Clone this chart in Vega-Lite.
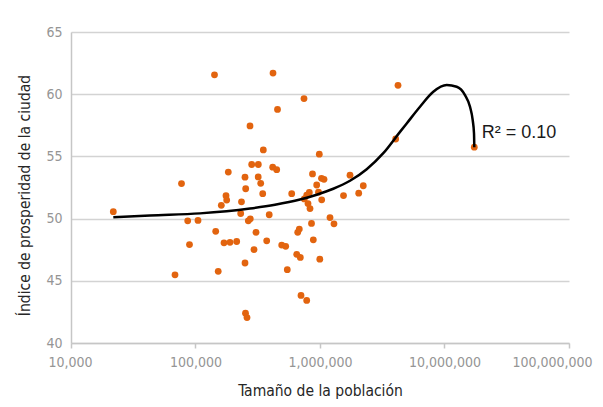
{
  "$schema": "https://vega.github.io/schema/vega-lite/v6.json",
  "autosize": "none",
  "width": 498,
  "height": 311,
  "padding": {"left": 71, "top": 32, "right": 34, "bottom": 64},
  "background": "white",
  "config": {
    "view": {"stroke": null},
    "axis": {
      "labelFont": "DejaVu Sans Condensed, sans-serif",
      "titleFont": "DejaVu Sans Condensed, sans-serif",
      "labelColor": "#959595",
      "labelFontSize": 14,
      "titleColor": "#262626",
      "titleFontSize": 15.5,
      "titleFontWeight": "normal",
      "domainColor": "#c6c6c6",
      "domainWidth": 1.5,
      "tickColor": "#c6c6c6",
      "tickWidth": 1.5,
      "gridColor": "#d3d3d3",
      "gridWidth": 1.5
    }
  },
  "datasets": {
    "points": [
      {"poblacion": 21870, "indice": 50.56},
      {"poblacion": 68440, "indice": 45.48},
      {"poblacion": 77190, "indice": 52.82},
      {"poblacion": 86580, "indice": 49.82},
      {"poblacion": 89480, "indice": 47.91},
      {"poblacion": 104730, "indice": 49.85},
      {"poblacion": 142100, "indice": 61.56},
      {"poblacion": 145300, "indice": 48.98},
      {"poblacion": 152200, "indice": 45.76},
      {"poblacion": 161200, "indice": 51.07},
      {"poblacion": 169400, "indice": 48.05},
      {"poblacion": 175800, "indice": 51.84},
      {"poblacion": 178100, "indice": 51.49},
      {"poblacion": 183400, "indice": 53.74},
      {"poblacion": 189300, "indice": 48.09},
      {"poblacion": 214200, "indice": 48.16},
      {"poblacion": 230700, "indice": 50.41},
      {"poblacion": 234100, "indice": 51.35},
      {"poblacion": 249800, "indice": 53.33},
      {"poblacion": 249800, "indice": 46.43},
      {"poblacion": 253000, "indice": 52.4},
      {"poblacion": 252100, "indice": 42.4},
      {"poblacion": 259200, "indice": 42.04},
      {"poblacion": 265500, "indice": 49.82},
      {"poblacion": 275500, "indice": 49.98},
      {"poblacion": 274000, "indice": 57.45},
      {"poblacion": 282700, "indice": 54.35},
      {"poblacion": 295100, "indice": 47.51},
      {"poblacion": 306200, "indice": 48.9},
      {"poblacion": 319500, "indice": 54.35},
      {"poblacion": 318900, "indice": 53.35},
      {"poblacion": 334000, "indice": 52.84},
      {"poblacion": 346700, "indice": 52.0},
      {"poblacion": 350500, "indice": 55.52},
      {"poblacion": 373200, "indice": 48.21},
      {"poblacion": 390900, "indice": 50.31},
      {"poblacion": 417000, "indice": 54.13},
      {"poblacion": 419300, "indice": 61.7},
      {"poblacion": 449000, "indice": 53.93},
      {"poblacion": 455700, "indice": 58.78},
      {"poblacion": 492500, "indice": 47.87},
      {"poblacion": 530200, "indice": 47.77},
      {"poblacion": 546100, "indice": 45.89},
      {"poblacion": 592600, "indice": 52.0},
      {"poblacion": 650100, "indice": 47.13},
      {"poblacion": 662200, "indice": 48.9},
      {"poblacion": 682000, "indice": 49.16},
      {"poblacion": 694800, "indice": 46.88},
      {"poblacion": 703900, "indice": 43.82},
      {"poblacion": 782100, "indice": 43.42},
      {"poblacion": 743900, "indice": 59.65},
      {"poblacion": 748000, "indice": 51.58},
      {"poblacion": 782100, "indice": 51.88},
      {"poblacion": 801000, "indice": 51.21},
      {"poblacion": 820600, "indice": 52.1},
      {"poblacion": 831300, "indice": 50.81},
      {"poblacion": 854600, "indice": 49.61},
      {"poblacion": 870700, "indice": 53.59},
      {"poblacion": 883600, "indice": 48.29},
      {"poblacion": 940800, "indice": 52.7},
      {"poblacion": 972600, "indice": 52.12},
      {"poblacion": 987200, "indice": 55.18},
      {"poblacion": 996400, "indice": 46.74},
      {"poblacion": 1028000, "indice": 53.24},
      {"poblacion": 1077000, "indice": 53.16},
      {"poblacion": 1032000, "indice": 51.51},
      {"poblacion": 1203000, "indice": 50.08},
      {"poblacion": 1295000, "indice": 49.58},
      {"poblacion": 1545000, "indice": 51.85},
      {"poblacion": 1742000, "indice": 53.49},
      {"poblacion": 2046000, "indice": 52.04},
      {"poblacion": 2227000, "indice": 52.64},
      {"poblacion": 4055000, "indice": 56.4},
      {"poblacion": 4232000, "indice": 60.71},
      {"poblacion": 17350000, "indice": 55.74}
    ],
    "trend": [
      {"poblacion": 21870, "indice": 50.1},
      {"poblacion": 43100, "indice": 50.25},
      {"poblacion": 108700, "indice": 50.42},
      {"poblacion": 274000, "indice": 50.81},
      {"poblacion": 435000, "indice": 51.11},
      {"poblacion": 690800, "indice": 51.53},
      {"poblacion": 940800, "indice": 51.92},
      {"poblacion": 1279000, "indice": 52.4},
      {"poblacion": 1742000, "indice": 53.04},
      {"poblacion": 2372000, "indice": 53.97},
      {"poblacion": 3224000, "indice": 55.26},
      {"poblacion": 4390000, "indice": 56.97},
      {"poblacion": 4971000, "indice": 57.65},
      {"poblacion": 6357000, "indice": 58.99},
      {"poblacion": 8128000, "indice": 60.19},
      {"poblacion": 10420000, "indice": 60.73},
      {"poblacion": 12530000, "indice": 60.6},
      {"poblacion": 14610000, "indice": 59.93},
      {"poblacion": 16030000, "indice": 58.99},
      {"poblacion": 16850000, "indice": 57.91},
      {"poblacion": 17260000, "indice": 56.84},
      {"poblacion": 17350000, "indice": 55.74}
    ],
    "etiqueta": [
      {"poblacion": 19900000, "indice": 56.5, "texto": "R² = 0.10"}
    ]
  },
  "encoding": {
    "x": {
      "field": "poblacion",
      "type": "quantitative",
      "scale": {"type": "log", "domain": [10000, 100000000], "nice": false},
      "axis": {
        "title": "Tamaño de la población",
        "values": [10000, 100000, 1000000, 10000000, 100000000],
        "format": ",d",
        "grid": false,
        "tickSize": 5,
        "labelPadding": 7,
        "labelFlush": true,
        "labelFlushOffset": 23,
        "titlePadding": 14
      }
    },
    "y": {
      "field": "indice",
      "type": "quantitative",
      "scale": {"domain": [40, 65], "nice": false, "zero": false},
      "axis": {
        "title": "Índice de prosperidad de la ciudad",
        "values": [40, 45, 50, 55, 60, 65],
        "ticks": false,
        "labelPadding": 9,
        "titlePadding": 13,
        "titleY": 163
      }
    }
  },
  "layer": [
    {
      "data": {"name": "points"},
      "mark": {"type": "circle", "size": 46, "color": "#E2640F", "opacity": 1}
    },
    {
      "data": {"name": "trend"},
      "mark": {"type": "line", "color": "#000000", "strokeWidth": 2.5, "interpolate": "monotone"}
    },
    {
      "data": {"name": "etiqueta"},
      "mark": {"type": "text", "align": "left", "baseline": "alphabetic", "font": "Liberation Sans, Arial, sans-serif", "fontSize": 18, "color": "#1a1a1a"},
      "encoding": {"text": {"field": "texto"}}
    }
  ]
}
